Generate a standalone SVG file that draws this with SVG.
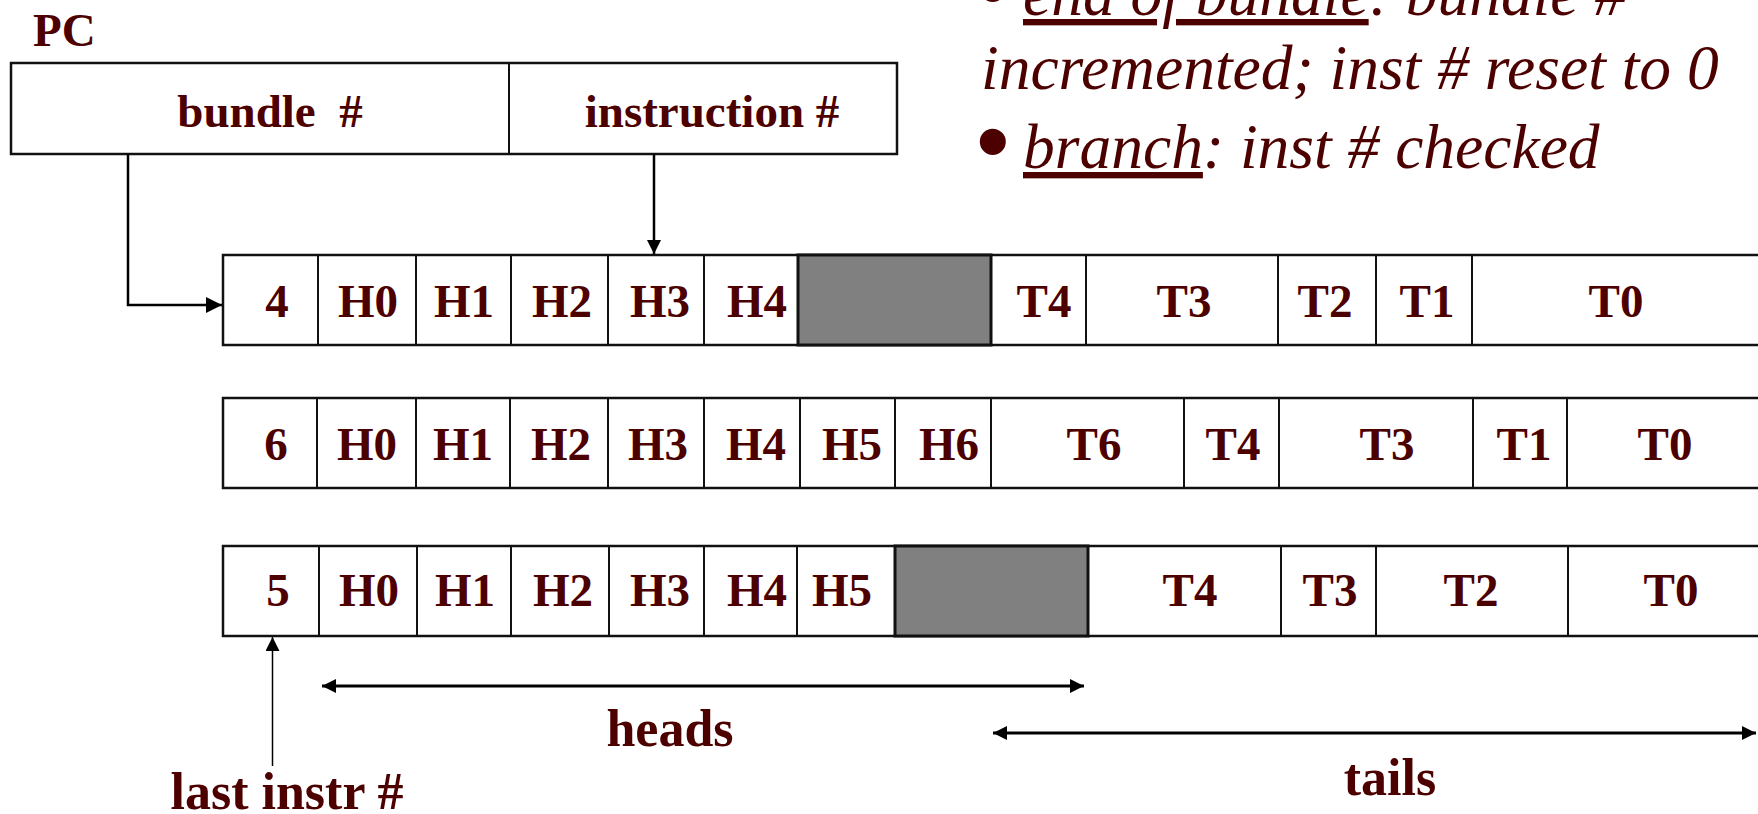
<svg xmlns="http://www.w3.org/2000/svg" width="1758" height="814" viewBox="0 0 1758 814">
  <style>
    .cell { font-family: "Liberation Serif", "Times New Roman", serif; font-weight: bold; font-size: 47px; fill: #4d0000; text-anchor: middle; }
    .big { font-family: "Liberation Serif", "Times New Roman", serif; font-weight: bold; font-size: 52px; fill: #4d0000; text-anchor: middle; }
    .note { font-family: "Liberation Serif", "Times New Roman", serif; font-style: italic; font-size: 63.5px; fill: #4d0000; }
    .bullet { font-family: "Liberation Sans", Arial, sans-serif; font-size: 96px; fill: #4d0000; }
    .box { fill: #ffffff; stroke: #111111; stroke-width: 2.5; }
    .div { stroke: #111111; stroke-width: 2; fill: none; }
    .gap { fill: #808080; stroke: #111111; stroke-width: 3; }
    .wire { stroke: #000000; stroke-width: 2.5; fill: none; }
    .thin { stroke: #000000; stroke-width: 1.5; fill: none; }
    .span { stroke: #000000; stroke-width: 3; fill: none; }
  </style>
  <defs>
    <marker id="head" markerUnits="userSpaceOnUse" markerWidth="16" markerHeight="16" refX="16" refY="8" orient="auto-start-reverse">
      <path d="M0,0 L16,8 L0,16 z" fill="#000000"/>
    </marker>
    <marker id="headSmall" markerUnits="userSpaceOnUse" markerWidth="14" markerHeight="14" refX="14" refY="7" orient="auto-start-reverse">
      <path d="M0,0 L14,7 L0,14 z" fill="#000000"/>
    </marker>
  </defs>

  <rect width="1758" height="814" fill="#ffffff"/>

  <!-- program counter register -->
  <g id="pc">
    <text x="33" y="46" class="big" style="text-anchor:start;font-size:47px">PC</text>
    <rect x="11" y="63" width="886" height="91" class="box"/>
    <line x1="509" y1="63" x2="509" y2="153" class="div"/>
    <text x="270" y="127" class="cell" xml:space="preserve">bundle  #</text>
    <text x="712" y="127" class="cell">instruction #</text>
  </g>

  <!-- notes, top right -->
  <g id="notes">
    <text x="976" y="21" class="bullet">•</text>
    <text x="1023" y="15" class="note"><tspan text-decoration="underline">end of bundle</tspan>: bundle #</text>
    <text x="981" y="89" class="note">incremented; inst # reset to 0</text>
    <text x="976" y="174" class="bullet">•</text>
    <text x="1023" y="168" class="note"><tspan text-decoration="underline">branch</tspan>: inst # checked</text>
  </g>

  <!-- bundle with last instruction 4 -->
  <g id="bundle-a">
    <rect x="223" y="255" width="1547" height="90" class="box"/>
    <rect x="798" y="255" width="193" height="90" class="gap"/>
    <path class="div" d="M318,255V345M416,255V345M511,255V345M608,255V345M704,255V345M1086,255V345M1278,255V345M1376,255V345M1472,255V345"/>
    <text class="cell" x="277" y="317">4</text>
    <text class="cell" x="368" y="317">H0</text>
    <text class="cell" x="464" y="317">H1</text>
    <text class="cell" x="562" y="317">H2</text>
    <text class="cell" x="660" y="317">H3</text>
    <text class="cell" x="757" y="317">H4</text>
    <text class="cell" x="1044" y="317">T4</text>
    <text class="cell" x="1184" y="317">T3</text>
    <text class="cell" x="1325" y="317">T2</text>
    <text class="cell" x="1427" y="317">T1</text>
    <text class="cell" x="1616" y="317">T0</text>
  </g>

  <!-- bundle with last instruction 6 -->
  <g id="bundle-b">
    <rect x="223" y="398" width="1547" height="90" class="box"/>
    <path class="div" d="M317,398V488M416,398V488M510,398V488M608,398V488M704,398V488M800,398V488M895,398V488M991,398V488M1184,398V488M1279,398V488M1473,398V488M1567,398V488"/>
    <text class="cell" x="276" y="460">6</text>
    <text class="cell" x="367" y="460">H0</text>
    <text class="cell" x="463" y="460">H1</text>
    <text class="cell" x="561" y="460">H2</text>
    <text class="cell" x="658" y="460">H3</text>
    <text class="cell" x="756" y="460">H4</text>
    <text class="cell" x="852" y="460">H5</text>
    <text class="cell" x="949" y="460">H6</text>
    <text class="cell" x="1094" y="460">T6</text>
    <text class="cell" x="1233" y="460">T4</text>
    <text class="cell" x="1387" y="460">T3</text>
    <text class="cell" x="1524" y="460">T1</text>
    <text class="cell" x="1665" y="460">T0</text>
  </g>

  <!-- bundle with last instruction 5 -->
  <g id="bundle-c">
    <rect x="223" y="546" width="1547" height="90" class="box"/>
    <rect x="895" y="546" width="193" height="90" class="gap"/>
    <path class="div" d="M319,546V636M417,546V636M511,546V636M609,546V636M704,546V636M797,546V636M1281,546V636M1376,546V636M1568,546V636"/>
    <text class="cell" x="278" y="606">5</text>
    <text class="cell" x="369" y="606">H0</text>
    <text class="cell" x="465" y="606">H1</text>
    <text class="cell" x="563" y="606">H2</text>
    <text class="cell" x="660" y="606">H3</text>
    <text class="cell" x="757" y="606">H4</text>
    <text class="cell" x="842" y="606">H5</text>
    <text class="cell" x="1190" y="606">T4</text>
    <text class="cell" x="1330" y="606">T3</text>
    <text class="cell" x="1471" y="606">T2</text>
    <text class="cell" x="1671" y="606">T0</text>
  </g>

  <!-- range labels -->
  <g id="labels">
    <text class="big" x="670" y="746">heads</text>
    <text class="big" x="1390" y="795">tails</text>
    <text class="big" x="287" y="809">last instr #</text>
  </g>

  <!-- connectors -->
  <g id="connectors">
    <path class="wire" d="M128,154V305H222" marker-end="url(#head)"/>
    <path class="wire" d="M654,154V254" marker-end="url(#headSmall)"/>
    <path class="thin" d="M272.5,766V637" marker-end="url(#headSmall)"/>
    <path class="span" d="M322,686H1084" marker-start="url(#headSmall)" marker-end="url(#headSmall)"/>
    <path class="span" d="M993,733H1756" marker-start="url(#headSmall)" marker-end="url(#headSmall)"/>
  </g>
</svg>
